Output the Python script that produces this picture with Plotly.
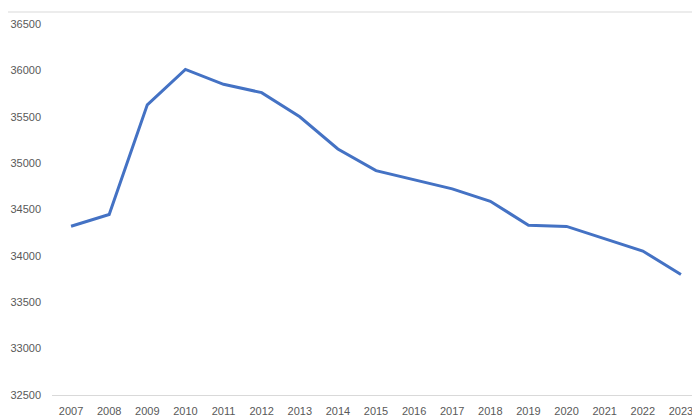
import plotly.graph_objects as go

years = [str(y) for y in range(2007, 2024)]
values = [34320, 34446, 35629, 36010, 35850, 35760, 35500, 35153, 34919,
          34823, 34723, 34589, 34330, 34318, 34187, 34052, 33800]
y_ticks = [32500, 33000, 33500, 34000, 34500, 35000, 35500, 36000, 36500]

fig = go.Figure()
fig.add_trace(go.Scatter(
    x=years, y=values, mode="lines",
    line=dict(color="#4472C4", width=3),
    hoverinfo="x+y", showlegend=False,
))

# page body has an 8px margin, so the figure is placed at (8, 8)
W, H = 692, 411
ml, mr, mt, mb = 44, 0, 16, 24
ph = H - mt - mb
fig.update_layout(
    width=W, height=H,
    margin=dict(l=ml, r=mr, t=mt, b=mb),
    paper_bgcolor="white", plot_bgcolor="white",
    font=dict(family="Liberation Sans, Arial, sans-serif", size=11, color="#595959"),
    xaxis=dict(
        type="category", range=[-0.5, len(years) - 0.5],
        showgrid=False, showline=True, linecolor="#d9d9d9", linewidth=1,
        ticks="", ticklabelstandoff=6, zeroline=False,
    ),
    yaxis=dict(
        range=[32500, 36500], tickvals=y_ticks,
        ticktext=[str(v) for v in y_ticks],
        showgrid=False, showline=False, zeroline=False, ticks="",
        ticklabelstandoff=10,
    ),
    shapes=[dict(
        type="line", xref="paper", yref="paper",
        x0=-ml / (W - ml - mr), x1=1,
        y0=1 + 12 / ph, y1=1 + 12 / ph,
        line=dict(color="#d9d9d9", width=1),
    )],
)
fig.write_html("out.html")
